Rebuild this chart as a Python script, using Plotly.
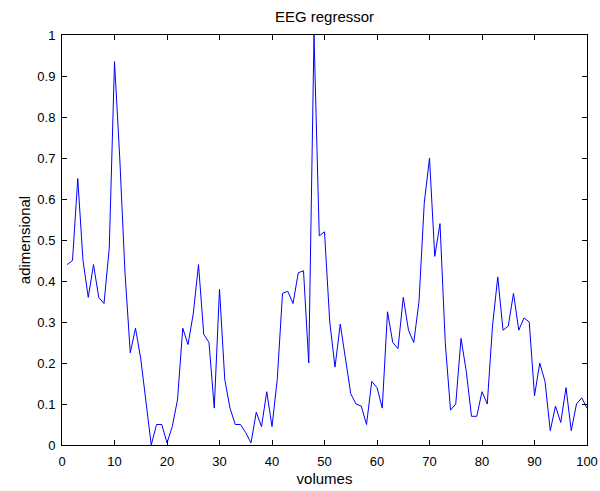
import plotly.graph_objects as go

volumes = list(range(1, 101))
values = [
    0.44, 0.45, 0.65, 0.45, 0.36, 0.44, 0.36, 0.345, 0.48, 0.935,
    0.70, 0.42, 0.225, 0.285, 0.21, 0.10, 0.0, 0.05, 0.05, 0.005,
    0.045, 0.11, 0.285, 0.245, 0.32, 0.44, 0.27, 0.25, 0.09, 0.38,
    0.16, 0.09, 0.05, 0.05, 0.03, 0.005, 0.08, 0.045, 0.13, 0.045,
    0.16, 0.37, 0.375, 0.345, 0.42, 0.425, 0.20, 1.0, 0.51, 0.52,
    0.30, 0.19, 0.295, 0.21, 0.125, 0.10, 0.095, 0.05, 0.155, 0.14,
    0.09, 0.325, 0.25, 0.235, 0.36, 0.28, 0.25, 0.35, 0.59, 0.70,
    0.46, 0.54, 0.25, 0.085, 0.10, 0.26, 0.18, 0.07, 0.07, 0.13,
    0.10, 0.29, 0.41, 0.28, 0.29, 0.37, 0.28, 0.31, 0.30, 0.12,
    0.20, 0.155, 0.035, 0.095, 0.055, 0.14, 0.035, 0.10, 0.115, 0.09,
]

x_ticks = list(range(0, 101, 10))
y_ticks = [i / 10 for i in range(0, 11)]
y_tick_labels = ["0", "0.1", "0.2", "0.3", "0.4", "0.5", "0.6", "0.7", "0.8", "0.9", "1"]

FONT = "Liberation Sans, Arial"

fig = go.Figure(go.Scatter(x=volumes, y=values, mode="lines",
                           line=dict(color="#0000ff", width=1)))

axis_common = dict(showline=True, linecolor="black", linewidth=1, mirror="ticks",
                   ticks="inside", ticklen=5, tickcolor="black", showgrid=False,
                   zeroline=False, automargin=False,
                   tickfont=dict(family=FONT, size=13, color="black"))

fig.update_layout(
    width=600, height=491,
    margin=dict(l=62, r=13, t=35, b=46),
    paper_bgcolor="white", plot_bgcolor="white",
    showlegend=False,
    title=dict(text="EEG regressor", x=0.5, xref="paper", xanchor="center",
               y=1 - 17 / 491, yref="container", yanchor="middle",
               font=dict(family=FONT, size=15, color="black"), automargin=False),
    xaxis=dict(range=[0, 100], tickvals=x_ticks, ticklabelstandoff=4,
               title=dict(text="volumes", standoff=5,
                          font=dict(family=FONT, size=15, color="black")),
               **axis_common),
    yaxis=dict(range=[0, 1], tickvals=y_ticks, ticktext=y_tick_labels, ticklabelstandoff=3,
               title=dict(text="adimensional", standoff=3,
                          font=dict(family=FONT, size=15, color="black")),
               **axis_common),
)

fig.write_html("out.html")
